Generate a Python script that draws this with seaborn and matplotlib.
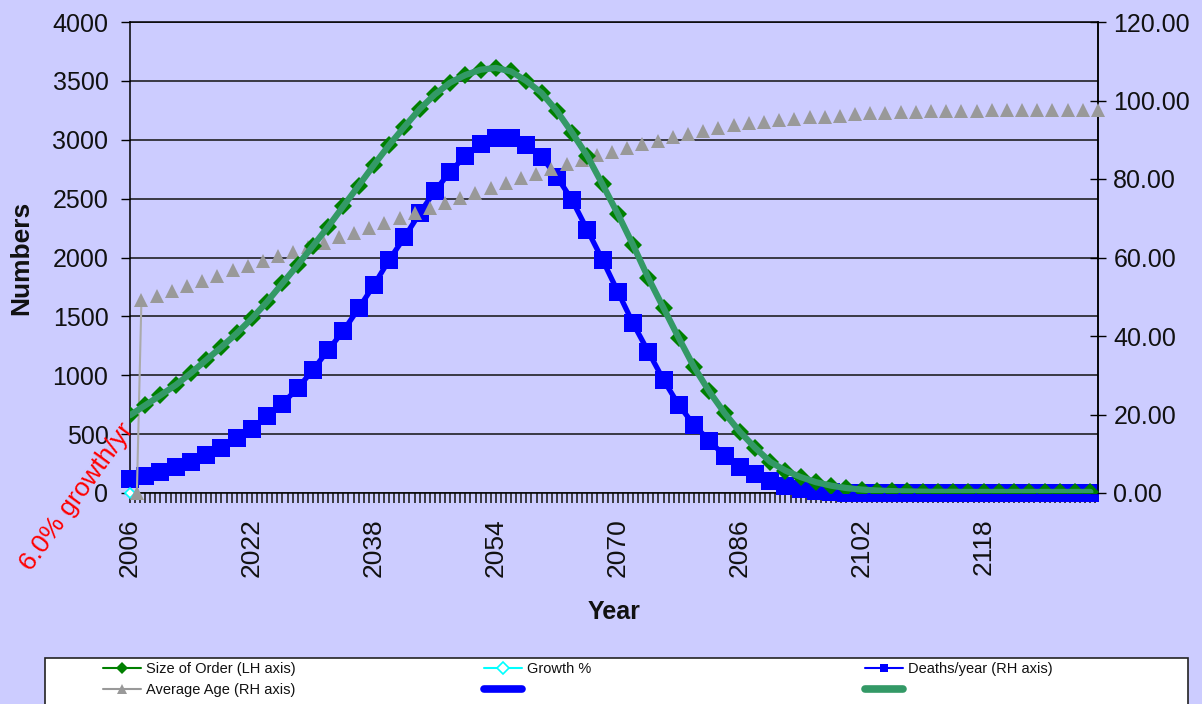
import numpy as np
import matplotlib
matplotlib.use("Agg")
import matplotlib.pyplot as plt
from matplotlib.lines import Line2D
from matplotlib.patches import Rectangle
from matplotlib.ticker import FixedLocator, FormatStrFormatter
import seaborn as sns

# ---------------- data ----------------
years = np.arange(2006, 2133, 2)  # 2006 .. 2132

size_of_order = [660, 745, 830, 917, 1019, 1130, 1240, 1356, 1483, 1625,
                 1781, 1936, 2098, 2262, 2437, 2610, 2786, 2955, 3110, 3260,
                 3385, 3485, 3550, 3595, 3610, 3580, 3499, 3397, 3245, 3060,
                 2862, 2620, 2370, 2106, 1826, 1571, 1316, 1070, 862, 680,
                 521, 385, 265, 190, 135, 92, 62, 42, 29, 21,
                 16, 13, 11, 10, 10, 9, 9, 9, 9, 9,
                 9, 9, 9, 9]

deaths_per_year = [120, 145, 180, 220, 265, 320, 385, 465, 541, 650,
                   760, 889, 1045, 1214, 1378, 1568, 1766, 1979, 2171, 2375,
                   2565, 2729, 2862, 2964, 3015, 3015, 2955, 2856, 2686, 2488,
                   2234, 1979, 1710, 1441, 1200, 960, 747, 577, 445, 315,
                   223, 161, 104, 59, 31, 17, 6, 2, 2, 2,
                   2, 2, 2, 2, 2, 2, 2, 2, 2, 2,
                   2, 2, 2, 2]

age_years = np.concatenate([[2006.9], np.linspace(2007.5, 2133, 64)])
average_age = [0.0, 49.2, 50.2, 51.5, 52.8, 54.1, 55.4, 56.7, 57.9, 59.1,
               60.4, 61.4, 62.8, 63.8, 65.1, 66.3, 67.6, 68.9, 70.1, 71.3,
               72.5, 73.8, 75.1, 76.4, 77.6, 78.9, 80.2, 81.4, 82.6, 83.7,
               84.9, 86.0, 87.0, 88.0, 88.9, 89.8, 90.7, 91.5, 92.2, 92.9,
               93.8, 94.2, 94.6, 95.0, 95.3, 95.7, 95.9, 96.1, 96.5, 96.7,
               96.9, 97.0, 97.1, 97.3, 97.4, 97.4, 97.4, 97.6, 97.6, 97.6,
               97.6, 97.6, 97.7, 97.7, 97.7]

growth_years = [2006]
growth_pct = [0.06]

year_labels = [2006, 2022, 2038, 2054, 2070, 2086, 2102, 2118]
left_ticks = [0, 500, 1000, 1500, 2000, 2500, 3000, 3500, 4000]
right_ticks = [0, 20, 40, 60, 80, 100, 120]

# ---------------- style ----------------
sns.set_theme(style="white")
plt.rcParams['font.family'] = ['Liberation Sans', 'DejaVu Sans']
BG = '#CCCCFF'
GREEN = '#008000'
SEAGREEN = '#339966'
BLUE = '#0000FF'
GRAY = '#999999'
CYAN = '#00FFFF'

W, H = 1202, 704
fig = plt.figure(figsize=(W / 100, H / 100), dpi=100, facecolor=BG)
ax = fig.add_axes([130 / W, 1 - 493 / H, 968 / W, 471 / H])
ax.set_facecolor(BG)
ax2 = ax.twinx()
ax3 = ax.twinx()

# blue deaths (bottom layer)
sns.lineplot(x=years, y=deaths_per_year, ax=ax, color=BLUE, marker='s',
             markersize=12.5, markeredgewidth=0, linewidth=1.5, clip_on=False,
             zorder=3)
sns.lineplot(x=years, y=deaths_per_year, ax=ax, color=BLUE, linewidth=3.8,
             clip_on=False, zorder=4)

# gray average age + cyan growth (right axis)
sns.lineplot(x=age_years[:2], y=average_age[:2], ax=ax2, color='#AAAAAA',
             linewidth=1.5, zorder=3)
sns.lineplot(x=age_years, y=average_age, ax=ax2, color=GRAY, marker='^',
             markersize=10.5, markeredgewidth=0, linestyle='', clip_on=False,
             zorder=4)
sns.lineplot(x=growth_years, y=growth_pct, ax=ax2, color=CYAN, marker='D',
             markersize=5, markerfacecolor='white', markeredgecolor=CYAN,
             markeredgewidth=1.2, clip_on=False, zorder=2)

# green size of order (top layer)
sns.lineplot(x=years, y=size_of_order, ax=ax3, color=GREEN, marker='D',
             markersize=9.5, markeredgewidth=0, linewidth=1.5, zorder=3)
sns.lineplot(x=years, y=size_of_order, ax=ax3, color=SEAGREEN, linewidth=4.5,
             solid_capstyle='round', zorder=4)

# ---------------- axes ----------------
xmin, xmax = 2006, 2133
for a in (ax, ax2, ax3):
    a.set_xlim(xmin, xmax)
ax.set_ylim(0, 4000)
ax3.set_ylim(0, 4000)
ax2.set_ylim(0, 120)
ax3.set_axis_off()

ax.set_yticks(left_ticks)
ax.yaxis.grid(True, color='#111111', linewidth=1.1)
ax.xaxis.grid(False)
ax.set_axisbelow(True)
ax.tick_params(axis='y', which='major', direction='out', length=6.5, width=1,
               color='black', labelsize=18, labelcolor='#111111', pad=9,
               left=True)

ax.set_xticks(year_labels)
ax.set_xticklabels([str(y) for y in year_labels], rotation=90)
ax.xaxis.set_minor_locator(FixedLocator(np.arange(2006, 2133.01, 2 / 3)))
ax.tick_params(axis='x', which='both', direction='out', length=7, width=1.2,
               color='#222222', bottom=True)
ax.tick_params(axis='x', which='major', labelsize=19, labelcolor='#111111',
               pad=11)

ax2.set_yticks(right_ticks)
ax2.yaxis.set_major_formatter(FormatStrFormatter('%.2f'))
ax2.tick_params(axis='y', direction='inout', length=12, width=1,
                color='black', labelsize=18, labelcolor='#111111', pad=5,
                right=True)
ax2.grid(False)

for a in (ax, ax2):
    for s in a.spines.values():
        s.set_color('black')
        s.set_linewidth(1.1)
        s.set_visible(True)
ax2.spines['left'].set_visible(False)
ax2.spines['bottom'].set_visible(False)
ax2.spines['top'].set_visible(False)

ax.set_xlabel('Year', fontsize=18, fontweight='bold', labelpad=17,
              color='#111111')
ax.set_ylabel('Numbers', fontsize=19, fontweight='bold', labelpad=14,
              color='#111111')
ax2.set_ylabel('')

# red annotation
fig.text(77 / W, 1 - 497 / H, '6.0% growth/yr', color='#FF0000', fontsize=19,
         rotation=54, ha='center', va='center', rotation_mode='anchor')

# ---------------- legend ----------------
fig.patches.append(Rectangle((45 / W, -0.05), (1188 - 45) / W,
                             (704 - 658) / H + 0.05, transform=fig.transFigure,
                             facecolor='white', edgecolor='#222222',
                             linewidth=1.2, zorder=1))

h_size = Line2D([], [], color=GREEN, marker='D', markersize=6,
                markeredgewidth=0, linewidth=1.5)
h_growth = Line2D([], [], color=CYAN, marker='D', markersize=6,
                  markerfacecolor='white', markeredgecolor=CYAN,
                  markeredgewidth=1.2, linewidth=1.5)
h_deaths = Line2D([], [], color=BLUE, marker='s', markersize=6,
                  markeredgewidth=0, linewidth=1.5)
h_age = Line2D([], [], color=GRAY, marker='^', markersize=7,
               markeredgewidth=0, linewidth=1.5)
h_blue = Line2D([], [], color=BLUE, linewidth=5.5, solid_capstyle='round')
h_green = Line2D([], [], color=SEAGREEN, linewidth=5.5, solid_capstyle='round')

cols = [
    (103, [h_size, h_age], ['Size of Order (LH axis)', 'Average Age (RH axis)']),
    (484, [h_growth, h_blue], ['Growth %', '']),
    (865, [h_deaths, h_green], ['Deaths/year (RH axis)', '']),
]
for xpx, hs, ls in cols:
    lg = fig.legend(hs, ls, loc='upper left',
                    bbox_to_anchor=(xpx / W, 1 - 662 / H),
                    bbox_transform=fig.transFigure, frameon=False,
                    fontsize=10.5, handlelength=2.6, handletextpad=0.35,
                    labelspacing=0.5, borderpad=0, borderaxespad=0)
    for t in lg.get_texts():
        t.set_color('#111111')

fig.savefig('out.png', dpi=100, facecolor=BG)
